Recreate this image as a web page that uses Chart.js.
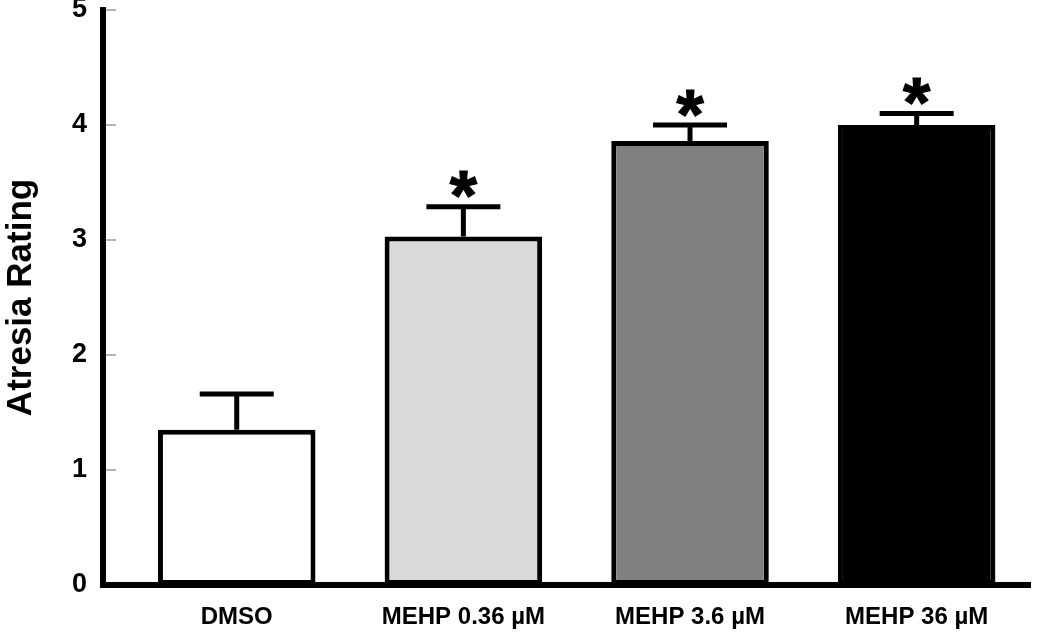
<!DOCTYPE html>
<html>
<head>
<meta charset="utf-8">
<script src="https://cdn.jsdelivr.net/npm/chart.js@4/dist/chart.umd.min.js"></script>
<style>
  body { margin: 0; background: #fff; }
  #wrap { width: 1050px; height: 634px; }
</style>
</head>
<body>
<div id="wrap"><canvas id="atresia"></canvas></div>
<script>
const groups = ['DMSO', 'MEHP 0.36 µM', 'MEHP 3.6 µM', 'MEHP 36 µM']
const rating = [1.35, 3.03, 3.86, 4.0]
const ratingErr = [0.31, 0.26, 0.14, 0.10]
const significant = [false, true, true, true]
const yTicks = [0, 1, 2, 3, 4, 5]
const fills = ['#ffffff', '#d9d9d9', '#808080', '#000000']

const FONT = '"Liberation Sans", Arial, sans-serif'

// error bars + asterisks drawn from the scales
const errorBars = {
    id: 'errorBars',
    afterDatasetsDraw(chart) {
        const ctx = chart.ctx
        const xs = chart.scales.x, ys = chart.scales.y
        ctx.save()
        ctx.strokeStyle = '#000'
        ctx.lineWidth = 5
        rating.forEach((v, i) => {
            const x = xs.getPixelForValue(i)
            const y0 = ys.getPixelForValue(v)
            const y1 = ys.getPixelForValue(v + ratingErr[i])
            ctx.beginPath()
            ctx.moveTo(x, y0)
            ctx.lineTo(x, y1)
            ctx.moveTo(x - 37, y1)
            ctx.lineTo(x + 37, y1)
            ctx.stroke()
            if (significant[i]) {
                const size = 70
                ctx.fillStyle = '#000'
                ctx.strokeStyle = '#000'
                ctx.lineWidth = 1.2
                ctx.font = 'bold ' + size + 'px ' + FONT
                ctx.textAlign = 'center'
                ctx.textBaseline = 'alphabetic'
                const ty = y1 - 27 + 0.58 * size
                ctx.fillText('*', x, ty)
                ctx.strokeText('*', x, ty)
                ctx.lineWidth = 5
            }
        })
        ctx.restore()
    }
}

// small gray tick marks pointing into the plot
const innerTicks = {
    id: 'innerTicks',
    afterDraw(chart) {
        const ctx = chart.ctx
        const ys = chart.scales.y
        const left = chart.chartArea.left
        ctx.save()
        ctx.strokeStyle = '#9a9a9a'
        ctx.lineWidth = 1.5
        yTicks.forEach(t => {
            if (t === 0) return
            const y = ys.getPixelForValue(t)
            ctx.beginPath()
            ctx.moveTo(left + 3, y)
            ctx.lineTo(left + 13, y)
            ctx.stroke()
        })
        ctx.restore()
    }
}

const atresiaCtx = document.getElementById('atresia').getContext('2d')
new Chart(atresiaCtx, {
    type: 'bar',
    data: {
        datasets: [{
            label: 'Atresia Rating',
            data: rating.map((v, i) => ({x: i, y: v})),
            backgroundColor: fills,
            borderColor: '#000',
            borderWidth: 5,
            borderSkipped: false,
            barPercentage: 0.695,
            categoryPercentage: 1
        }]
    },
    options: {
        responsive: true,
        maintainAspectRatio: false,
        animation: false,
        layout: { padding: { top: 10, right: 20, left: 0, bottom: 0 } },
        plugins: { legend: { display: false }, tooltip: { enabled: false } },
        scales: {
            x: {
                type: 'linear',
                offset: false,
                min: -0.59,
                max: 3.5,
                afterBuildTicks(scale) {
                    scale.ticks = groups.map((g, i) => ({value: i}))
                },
                afterFit(scale) {
                    scale.height = 49
                    scale.paddingLeft = 0
                    scale.paddingRight = 0
                },
                grid: { display: false, drawTicks: false, offset: false },
                border: { display: true, color: '#000', width: 6 },
                ticks: {
                    callback: v => groups[v],
                    color: '#000',
                    padding: 18,
                    maxRotation: 0,
                    autoSkip: false,
                    font: { family: FONT, weight: 'bold', size: 24 }
                }
            },
            y: {
                min: 0,
                max: 5,
                afterBuildTicks(scale) {
                    scale.ticks = yTicks.map(v => ({value: v}))
                },
                afterFit(scale) {
                    scale.width = 103
                    scale.paddingTop = 0
                    scale.paddingBottom = 0
                },
                grid: { display: false, drawTicks: false },
                border: { display: true, color: '#000', width: 6 },
                ticks: {
                    color: '#000',
                    padding: 16,
                    font: { family: FONT, weight: 'bold', size: 27 }
                },
                title: {
                    display: true,
                    text: 'Atresia Rating',
                    color: '#000',
                    padding: { top: 0, bottom: 0 },
                    font: { family: FONT, weight: 'bold', size: 35 }
                }
            }
        }
    },
    plugins: [errorBars, innerTicks]
})
</script>
</body>
</html>
